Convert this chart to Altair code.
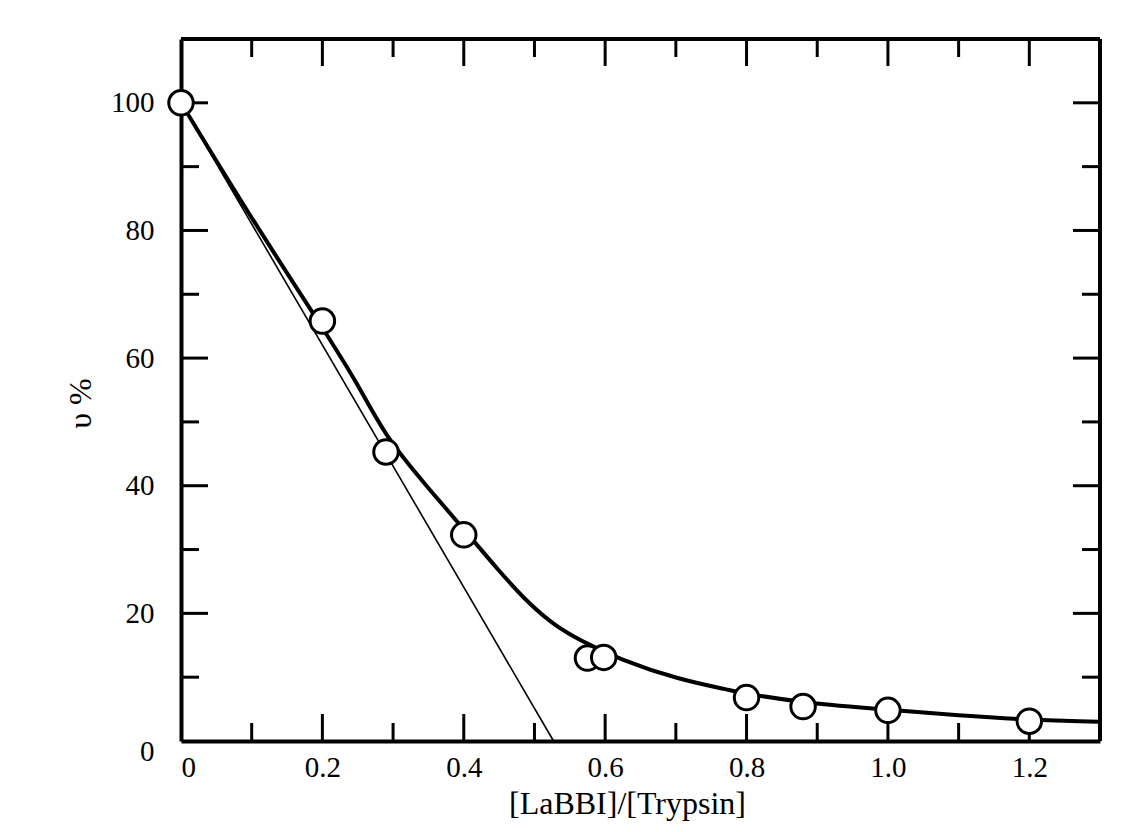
import altair as alt
import pandas as pd

# measured points
x_pts = [0, 0.2, 0.29, 0.4, 0.575, 0.598, 0.8, 0.88, 1.0, 1.2]
y_pts = [100, 65.8, 45.3, 32.3, 13.0, 13.1, 6.8, 5.4, 4.8, 3.1]

# fitted curve (thick line)
curve_x = [0, 0.1, 0.2, 0.25, 0.29, 0.35, 0.4, 0.45, 0.493, 0.53, 0.564, 0.62, 0.705, 0.776, 0.8, 0.88, 1.0, 1.1, 1.2, 1.3]
curve_y = [100, 81.8, 64.8, 56.0, 47.5, 39.6, 33.2, 26.6, 21.4, 18.0, 15.8, 12.8, 9.6, 8.0, 7.4, 6.0, 4.9, 4.0, 3.3, 3.0]

# initial-slope tangent (thin line)
tan_x = [0, 0.527]
tan_y = [100, 0]

# tick values
x_major = [0.2, 0.4, 0.6, 0.8, 1.0, 1.2]
x_minor = [0.1, 0.3, 0.5, 0.7, 0.9, 1.1]
y_major = [20, 40, 60, 80, 100]
y_minor = [10, 30, 50, 70, 90]
x_labels = [0, 0.2, 0.4, 0.6, 0.8, 1.0, 1.2]
y_labels = [0, 20, 40, 60, 80, 100]

W, H = 919, 702
MAJ, MIN = 27, 18
FONT = "Liberation Serif"

xs = alt.Scale(domain=[0, 1.3], nice=False, zero=False)
ys = alt.Scale(domain=[0, 110], nice=False, zero=False)

pts = pd.DataFrame({"x": x_pts, "y": y_pts})
crv = pd.DataFrame({"x": curve_x, "y": curve_y})
tan = pd.DataFrame({"x": tan_x, "y": tan_y})

xaxis = alt.Axis(values=x_labels, labelExpr="datum.value == 0 ? '0' : format(datum.value, '.1f')",
                 ticks=False, grid=False, domain=True, domainColor="black", domainWidth=4,
                 labelFont=FONT, labelFontSize=29, labelColor="black", labelPadding=12,
                 title="[LaBBI]/[Trypsin]", titleFont=FONT, titleFontSize=32, titleFontWeight="normal",
                 titleColor="black", titleX=446, titleY=72, titleAlign="center", titleBaseline="alphabetic")
yaxis = alt.Axis(values=y_labels, ticks=False, grid=False, domain=True, domainColor="black", domainWidth=4,
                 labelFont=FONT, labelFontSize=29, labelColor="black", labelPadding=27,
                 labelOffset={"condition": {"test": "datum.value == 0", "value": 10}, "value": 0},
                 title="υ %", titleFont=FONT, titleFontSize=32, titleFontWeight="normal",
                 titleColor="black", titleX=-101, titleY=364, titleAlign="center", titleBaseline="middle")


def X(field):
    return alt.X(field, scale=xs, axis=xaxis)


def Y(field):
    return alt.Y(field, scale=ys, axis=yaxis)


tan_layer = alt.Chart(tan).mark_line(color="black", strokeWidth=1.6).encode(x=X("x:Q"), y=Y("y:Q"))

curve_layer = alt.Chart(crv).mark_line(color="black", strokeWidth=4, interpolate="basis").encode(
    x=X("x:Q"), y=Y("y:Q"))


def xticks(vals, length):
    d = pd.DataFrame({"v": vals})
    bottom = alt.Chart(d).mark_rule(color="black", strokeWidth=3).encode(
        x=X("v:Q"), y=alt.value(H), y2=alt.value(H - length))
    top = alt.Chart(d).mark_rule(color="black", strokeWidth=3).encode(
        x=X("v:Q"), y=alt.value(0), y2=alt.value(length))
    return [bottom, top]


def yticks(vals, length):
    d = pd.DataFrame({"v": vals})
    left = alt.Chart(d).mark_rule(color="black", strokeWidth=3).encode(
        y=Y("v:Q"), x=alt.value(0), x2=alt.value(length))
    right = alt.Chart(d).mark_rule(color="black", strokeWidth=3).encode(
        y=Y("v:Q"), x=alt.value(W), x2=alt.value(W - length))
    return [left, right]


frame_df = pd.DataFrame({"k": [1]})
top_edge = alt.Chart(frame_df).mark_rule(color="black", strokeWidth=4).encode(
    x=alt.value(0), x2=alt.value(W), y=alt.value(0))
right_edge = alt.Chart(frame_df).mark_rule(color="black", strokeWidth=4).encode(
    x=alt.value(W), y=alt.value(0), y2=alt.value(H))

point_layer = alt.Chart(pts).mark_point(shape="circle", size=600, filled=False, fill="white",
                                        fillOpacity=1, stroke="black", strokeWidth=3, opacity=1).encode(
    x=X("x:Q"), y=Y("y:Q"))

layers = [tan_layer, curve_layer, top_edge, right_edge]
layers += xticks(x_major, MAJ) + xticks(x_minor, MIN) + yticks(y_major, MAJ) + yticks(y_minor, MIN)
layers += [point_layer]

chart = alt.layer(*layers).properties(
    width=W, height=H,
    autosize=alt.AutoSizeParams(type="none"),
    padding={"left": 173, "top": 31, "right": 33, "bottom": 83},
    background="white",
).configure_view(stroke=None)

chart.save("out.html", embed_options={"renderer": "svg", "actions": False})
